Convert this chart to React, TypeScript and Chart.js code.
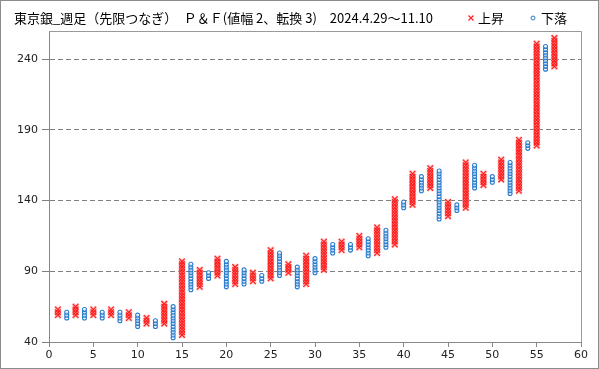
import React, { useEffect, useRef } from "react";
import { Chart, registerables } from "chart.js";

Chart.register(...registerables);

const TITLE = "東京銀_週足（先限つなぎ）　Ｐ＆Ｆ(値幅 2、転換 3)　2024.4.29～11.10";
const LEGEND_UP = "上昇";
const LEGEND_DOWN = "下落";
const BOX_SIZE = 2;

const columnNumbers = [
  1, 2, 3, 4, 5, 6, 7, 8, 9, 10, 11, 12, 13, 14, 15, 16, 17, 18, 19, 20,
  21, 22, 23, 24, 25, 26, 27, 28, 29, 30, 31, 32, 33, 34, 35, 36, 37, 38, 39, 40,
  41, 42, 43, 44, 45, 46, 47, 48, 49, 50, 51, 52, 53, 54, 55, 56, 57,
];
const columnTypes = [
  "X", "O", "X", "O", "X", "O", "X", "O", "X", "O", "X", "O", "X", "O", "X", "O", "X", "O", "X", "O",
  "X", "O", "X", "O", "X", "O", "X", "O", "X", "O", "X", "O", "X", "O", "X", "O", "X", "O", "X", "O",
  "X", "O", "X", "O", "X", "O", "X", "O", "X", "O", "X", "O", "X", "O", "X", "O", "X",
];
const columnLows = [
  59, 57, 59, 57, 59, 57, 59, 55, 57, 51, 53, 51, 53, 43, 45, 77, 79, 85, 87, 79,
  81, 81, 83, 83, 85, 87, 89, 79, 81, 89, 91, 103, 105, 105, 107, 101, 103, 107, 109, 135,
  137, 147, 149, 127, 129, 133, 135, 149, 151, 153, 155, 145, 147, 177, 179, 233, 235,
];
const columnHighs = [
  63, 61, 65, 63, 63, 61, 63, 61, 61, 59, 57, 55, 67, 65, 97, 95, 91, 89, 99, 97,
  93, 91, 89, 87, 105, 103, 95, 93, 101, 99, 111, 109, 111, 109, 115, 113, 121, 119, 141, 139,
  159, 157, 163, 161, 139, 137, 167, 165, 159, 157, 169, 167, 183, 181, 251, 249, 255,
];

const Y_MIN = 40;
const Y_MAX = 260;
const Y_TICKS = [40, 90, 140, 190, 240];
const X_MIN = 0;
const X_MAX = 60;
const X_STEP = 5;

function boxesOf(type: string) {
  const pts: { x: number; y: number }[] = [];
  columnNumbers.forEach((c, i) => {
    if (columnTypes[i] !== type) return;
    for (let v = columnLows[i]; v <= columnHighs[i]; v += BOX_SIZE) pts.push({ x: c, y: v });
  });
  return pts;
}

const CJK = '"Noto Sans CJK JP", "Noto Sans", sans-serif';
const TICK_FONT = '"DejaVu Sans", sans-serif';

const decorPlugin = {
  id: "decor",
  afterDraw(chart: any) {
    const { ctx, chartArea } = chart;
    ctx.save();
    ctx.strokeStyle = "#9a9a9a";
    ctx.lineWidth = 1;
    ctx.beginPath();
    ctx.moveTo(chartArea.left, chartArea.top + 0.5);
    ctx.lineTo(chartArea.right + 0.5, chartArea.top + 0.5);
    ctx.lineTo(chartArea.right + 0.5, chartArea.bottom);
    ctx.stroke();
    ctx.strokeStyle = "#8c8c8c";
    ctx.strokeRect(0.5, 0.5, chart.width - 1, chart.height - 1);
    ctx.fillStyle = "#000";
    ctx.font = `13px ${CJK}`;
    ctx.textBaseline = "middle";
    ctx.textAlign = "left";
    ctx.fillText(TITLE, 14, 18);
    const ly = 18;
    ctx.strokeStyle = "#ff2020";
    ctx.lineWidth = 1.2;
    ctx.beginPath();
    ctx.moveTo(468.5, ly - 2.5);
    ctx.lineTo(473.5, ly + 2.5);
    ctx.moveTo(473.5, ly - 2.5);
    ctx.lineTo(468.5, ly + 2.5);
    ctx.stroke();
    ctx.fillStyle = "#000";
    ctx.fillText(LEGEND_UP, 478, ly);
    ctx.strokeStyle = "#2b7bd0";
    ctx.lineWidth = 1;
    ctx.beginPath();
    ctx.arc(533, ly, 2, 0, Math.PI * 2);
    ctx.stroke();
    ctx.fillText(LEGEND_DOWN, 541, ly);
    ctx.restore();
  },
};

export default function App() {
  const ref = useRef<HTMLCanvasElement | null>(null);
  useEffect(() => {
    if (!ref.current) return;
    const upPts = boxesOf("X");
    const downPts = boxesOf("O");
    const chart = new Chart(ref.current, {
      type: "scatter",
      data: {
        datasets: [
          {
            label: "halo",
            data: upPts,
            pointStyle: "crossRot",
            pointRadius: 4,
            pointBorderWidth: 3,
            pointBorderColor: "rgba(255,140,140,0.5)",
            pointBackgroundColor: "rgba(0,0,0,0)",
            order: 3,
          },
          {
            label: LEGEND_UP,
            data: upPts,
            pointStyle: "crossRot",
            pointRadius: 4,
            pointBorderWidth: 1.1,
            pointBorderColor: "#ff1a1a",
            pointBackgroundColor: "rgba(0,0,0,0)",
            order: 2,
          },
          {
            label: LEGEND_DOWN,
            data: downPts,
            pointStyle: "circle",
            pointRadius: 2,
            pointBorderWidth: 1.1,
            pointBorderColor: "#2a7ccf",
            pointBackgroundColor: "rgba(255,255,255,0.5)",
            order: 1,
          },
        ],
      },
      options: {
        animation: false,
        responsive: false,
        devicePixelRatio: 1,
        layout: { padding: { top: 31, right: 18, bottom: 0, left: 0 } },
        plugins: { legend: { display: false }, title: { display: false }, tooltip: { enabled: false } },
        scales: {
          x: {
            type: "linear",
            min: X_MIN,
            max: X_MAX,
            ticks: { stepSize: X_STEP, color: "#222", font: { family: TICK_FONT, size: 11 }, padding: 2, maxRotation: 0 },
            grid: { drawOnChartArea: false, tickLength: 5, color: "#888", tickColor: "#888" },
            border: { color: "#888" },
            afterFit: (s: any) => { s.height = 27; },
          },
          y: {
            type: "linear",
            min: Y_MIN,
            max: Y_MAX,
            ticks: { color: "#222", font: { family: TICK_FONT, size: 11 }, padding: 4 },
            afterBuildTicks: (s: any) => {
              s.ticks = Y_TICKS.map((v) => ({ value: v }));
            },
            grid: { color: "#808080", tickLength: 7, tickColor: "#808080", tickBorderDash: [] },
            border: { color: "#888", dash: [5, 3] },
            afterFit: (s: any) => { s.width = 49; },
          },
        },
      },
      plugins: [decorPlugin],
    });
    return () => chart.destroy();
  }, []);
  return (
    <div style={{ position: "fixed", left: 0, top: 0, width: 599, height: 369, background: "#fff" }}>
      <canvas ref={ref} width={599} height={369} />
    </div>
  );
}
